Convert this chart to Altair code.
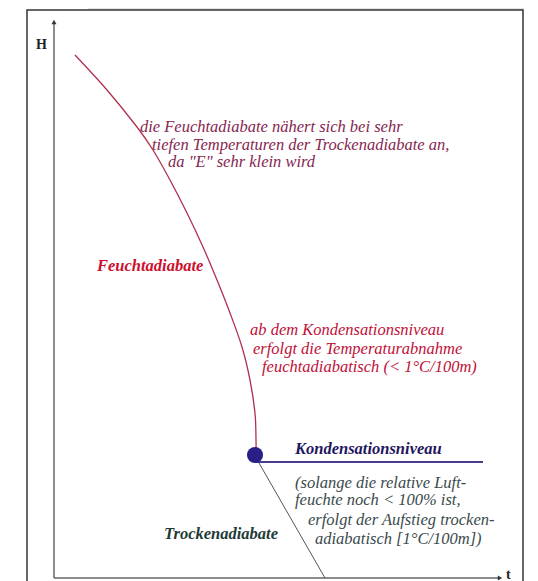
import altair as alt
import pandas as pd

# Moist adiabat (Feuchtadiabate): temperature-like x, height-like y (diagram units)
curve_t = [21, 53, 83, 99, 116, 133, 149, 163, 176, 188, 196, 201, 202, 202]
curve_h = [523, 488, 451, 428, 398, 365, 331, 298, 265, 231, 198, 165, 138, 123]

# Dry adiabat (Trockenadiabate) below condensation level
dry_t = [201, 271]
dry_h = [122, 0]

# Condensation level line
level_t = [201, 429]
level_h = [116, 116]

# Condensation point
dot_t = [201]
dot_h = [123]

# Axes (arrows)
yaxis_t = [0, 0]
yaxis_h = [0, 556]
xaxis_t = [0, 446]
xaxis_h = [0, 0]

# Frame and top band
frame_x = [-27, 469]
frame_y = [-20, 568]
band_x = [34, 470]
band_y = [568, 590]

# Labels
italic_texts = [
    "die Feuchtadiabate nähert sich bei sehr",
    "tiefen Temperaturen der Trockenadiabate an,",
    'da "E" sehr klein wird',
    "ab dem Kondensationsniveau",
    "erfolgt die Temperaturabnahme",
    "feuchtadiabatisch (< 1°C/100m)",
    "(solange die relative Luft-",
    "feuchte noch < 100% ist,",
    "erfolgt der Aufstieg trocken-",
    "adiabatisch [1°C/100m])",
]
italic_x = [86, 98, 114, 196, 199, 208, 241, 241, 254, 261]
italic_y = [451, 433, 416, 248, 229, 211, 95, 78, 58, 39]
italic_col = ["#862650"] * 3 + ["#c01038"] * 3 + ["#3a4a4c"] * 4

bold_texts = ["Feuchtadiabate", "Kondensationsniveau", "Trockenadiabate"]
bold_x = [43, 241, 110]
bold_y = [312, 129, 44]
bold_col = ["#cc0f2e", "#1f1660", "#1e3a36"]

axis_texts = ["H", "t"]
axis_x = [-18, 452]
axis_y = [533, 3]

SERIF = "Liberation Serif"

XS = alt.Scale(domain=[-46, 476], nice=False, zero=False)
YS = alt.Scale(domain=[-3, 570], nice=False, zero=False)


def xy(x="t", y="h"):
    return dict(x=alt.X(f"{x}:Q", scale=XS, axis=None),
                y=alt.Y(f"{y}:Q", scale=YS, axis=None))


band = alt.Chart(pd.DataFrame({"x": [band_x[0]], "x2": [band_x[1]], "y": [band_y[0]], "y2": [band_y[1]]})).mark_rect(
    color="#e4e4e4").encode(**xy("x", "y"), x2="x2:Q", y2="y2:Q")

frame = alt.Chart(pd.DataFrame({"x": [frame_x[0]], "x2": [frame_x[1]], "y": [frame_y[0]], "y2": [frame_y[1]]})).mark_rect(
    fill="white", stroke="#333333", strokeWidth=1.5).encode(**xy("x", "y"), x2="x2:Q", y2="y2:Q")

yaxis = alt.Chart(pd.DataFrame({"t": yaxis_t, "h": yaxis_h})).mark_line(
    color="#666666", strokeWidth=1.5).encode(**xy())
xaxis = alt.Chart(pd.DataFrame({"t": xaxis_t, "h": xaxis_h})).mark_line(
    color="#666666", strokeWidth=1.5).encode(**xy())
yarrow = alt.Chart(pd.DataFrame({"t": [yaxis_t[1]], "h": [yaxis_h[1]]})).mark_point(
    shape="triangle-up", filled=True, color="#333333", size=25, opacity=1).encode(**xy())
xarrow = alt.Chart(pd.DataFrame({"t": [xaxis_t[1]], "h": [xaxis_h[1]]})).mark_point(
    shape="triangle-right", filled=True, color="#333333", size=25, opacity=1).encode(**xy())

curve_df = pd.DataFrame({"t": curve_t, "h": curve_h, "o": list(range(len(curve_t)))})
curve = alt.Chart(curve_df).mark_line(color="#b0304f", strokeWidth=1.3, interpolate="cardinal").encode(
    **xy(), order="o:Q")

dry = alt.Chart(pd.DataFrame({"t": dry_t, "h": dry_h})).mark_line(
    color="#555555", strokeWidth=1).encode(**xy())

level = alt.Chart(pd.DataFrame({"t": level_t, "h": level_h})).mark_line(
    color="#4a3d8f", strokeWidth=2).encode(**xy())

dot = alt.Chart(pd.DataFrame({"t": dot_t, "h": dot_h})).mark_circle(
    color="#2a1f86", size=260, opacity=1).encode(**xy())

it_df = pd.DataFrame({"t": italic_x, "h": italic_y, "label": italic_texts, "c": italic_col})
italic = alt.Chart(it_df).mark_text(
    font=SERIF, fontStyle="italic", fontSize=16.5, align="left", baseline="middle").encode(
    **xy(), text="label:N", color=alt.Color("c:N", scale=None))

bd_df = pd.DataFrame({"t": bold_x, "h": bold_y, "label": bold_texts, "c": bold_col})
bold = alt.Chart(bd_df).mark_text(
    font=SERIF, fontStyle="italic", fontWeight="bold", fontSize=16.5, align="left",
    baseline="middle").encode(**xy(), text="label:N", color=alt.Color("c:N", scale=None))

ax_df = pd.DataFrame({"t": axis_x, "h": axis_y, "label": axis_texts})
axlab = alt.Chart(ax_df).mark_text(
    font=SERIF, fontWeight="bold", fontSize=14, align="left", baseline="middle",
    color="#222222").encode(**xy(), text="label:N")

chart = alt.layer(
    band, frame, yaxis, xaxis, yarrow, xarrow, curve, dry, level, dot, italic, bold, axlab
).properties(
    width=522, height=573, padding=0,
    autosize=alt.AutoSizeParams(type="none"),
    background="white",
).configure_view(stroke=None)

chart.save("out.html", embed_options={"renderer": "svg", "actions": False})
